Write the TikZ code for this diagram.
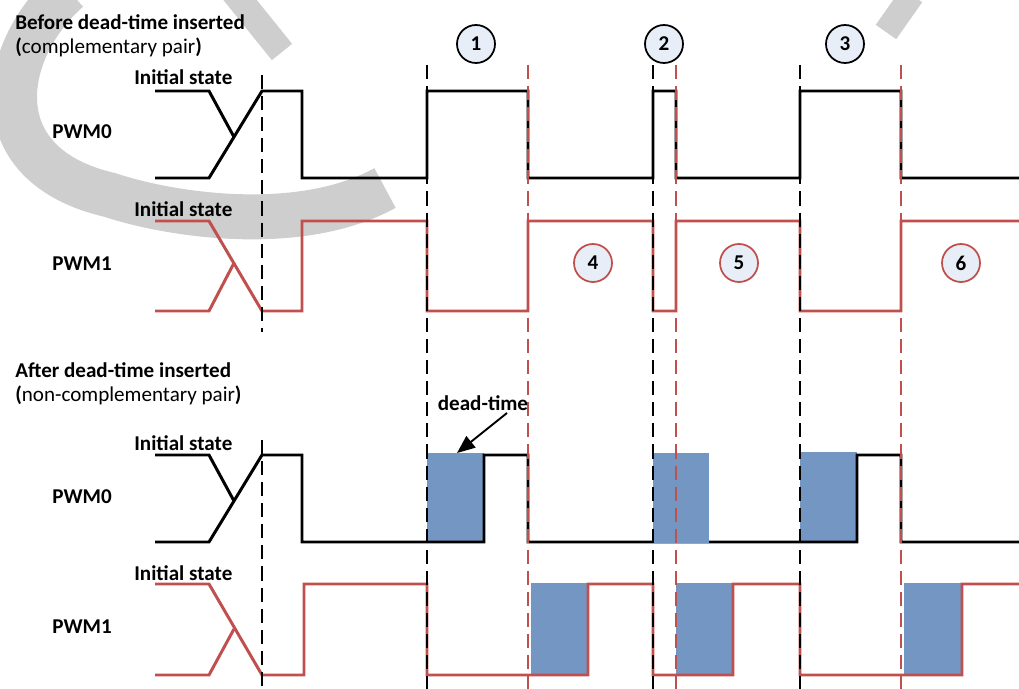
\documentclass[tikz,border=0pt]{standalone}
\usepackage{fontspec}
\setmainfont{Carlito}
\usetikzlibrary{arrows.meta, positioning}
\definecolor{pwmred}{RGB}{192, 80, 77}
\definecolor{deadblue}{RGB}{115, 150, 194}
\definecolor{numfill}{RGB}{232, 238, 248}
\definecolor{markgray}{RGB}{206, 206, 206}

\begin{document}
\begin{tikzpicture}[
        x=0.02cm, y=-0.02cm,
        font=\fontsize{12}{14}\selectfont,
        lbl/.style={anchor=west, inner sep=0pt, font=\fontsize{12}{14}\selectfont\bfseries},
        note/.style={anchor=west, inner sep=0pt},
        wave/.style={line width=1.7pt, black},
        wavered/.style={line width=1.7pt, pwmred},
        guide/.style={dash pattern=on 8pt off 4pt, line width=0.9pt, black},
        guidered/.style={guide, pwmred},
        num/.style={circle, draw=black, fill=numfill, line width=1pt, minimum size=0.76cm, inner sep=0pt, font=\fontsize{12}{14}\selectfont\bfseries},
        numred/.style={num, draw=pwmred},
        dead/.style={fill=deadblue},
        arr/.style={-{Triangle[length=3.6mm, width=2.9mm]}, line width=1.1pt},
        wmark/.style={line width=0.9cm, markgray}
      ]
        \useasboundingbox (0,0) rectangle (1019,689);
        \clip (0,0) rectangle (1019,689);

        % watermark
        \draw[wmark] (68,-10) .. controls (0,50) and (-20,165) .. (110,195)
          .. controls (170,215) and (300,235) .. (385,188);
        \draw[wmark, line width=0.52cm] (232,-10) -- (282,52);
        \draw[wmark, line width=0.5cm] (886,32) -- (912,-5);

        % headings
        \node[lbl] (hbefore) at (15,22) {Before dead-time inserted};
        \node[note] (hcomp) at (15,47) {{\bfseries (}complementary pair{\bfseries )}};
        \node[lbl] (hafter) at (15,370) {After dead-time inserted};
        \node[note] (hnoncomp) at (15,395) {{\bfseries (}non-complementary pair{\bfseries )}};

        % signal names
        \node[lbl] (init0) at (134,77) {Initial state};
        \node[lbl] (pwm0) at (52,132) {PWM0};
        \node[lbl] (init1) at (134,209) {Initial state};
        \node[lbl] (pwm1) at (52,264) {PWM1};
        \node[lbl] (init2) at (134,443) {Initial state};
        \node[lbl] (pwm2) at (52,497) {PWM0};
        \node[lbl] (init3) at (134,573) {Initial state};
        \node[lbl] (pwm3) at (52,627) {PWM1};

        % dead-time blocks
        \fill[dead] (427,453) rectangle (484,542);
        \fill[dead] (800,452) rectangle (857,542);
        \fill[dead] (531,583) rectangle (588,675);
        \fill[dead] (676,583) rectangle (733,675);
        \fill[dead] (904,583) rectangle (962,675);

        % before: PWM0 / PWM1
        \draw[wave] (155,91) -- (209,91) -- (234,137);
        \draw[wave] (155,178) -- (209,178) -- (262,91) -- (302,91) -- (302,178) -- (427,178) -- (427,91)
          -- (528,91) -- (528,178) -- (653,178) -- (653,91) -- (676,91) -- (676,178) -- (800,178)
          -- (800,91) -- (901,91) -- (901,178) -- (1019,178);
        \draw[wavered] (155,311) -- (209,311) -- (234,263);
        \draw[wavered] (155,221) -- (209,221) -- (262,311) -- (302,311) -- (302,221) -- (427,221) -- (427,311)
          -- (528,311) -- (528,221) -- (653,221) -- (653,311) -- (676,311) -- (676,221) -- (800,221)
          -- (800,311) -- (901,311) -- (901,221) -- (1019,221);

        % after: PWM0 / PWM1
        \draw[wave] (155,455) -- (209,455) -- (234,501);
        \draw[wave] (155,542) -- (209,542) -- (262,455) -- (302,455) -- (302,542) -- (484,542) -- (484,455)
          -- (528,455) -- (528,542) -- (857,542) -- (857,455) -- (901,455) -- (901,542) -- (1019,542);
        \fill[dead] (653,453) rectangle (709,543);
        \draw[wavered] (155,675) -- (209,675) -- (234,629);
        \draw[wavered] (155,584) -- (209,584) -- (262,675) -- (304,675) -- (304,584) -- (427,584) -- (427,675)
          -- (588,675) -- (588,584) -- (653,584) -- (653,675) -- (733,675) -- (733,584) -- (800,584)
          -- (800,675) -- (962,675) -- (962,584) -- (1019,584);

        % guide lines
        \draw[guide] (262,75) -- (262,332);
        \draw[guide] (262,440) -- (262,689);
        \foreach \x in {427,653,800}
          \draw[guide] (\x,65) -- (\x,689);
        \foreach \x in {528,676,901}
          \draw[guidered] (\x,65) -- (\x,689);

        % numbered events
        \node[num] (n1) at (476,44) {1};
        \node[num] (n2) at (664,44) {2};
        \node[num] (n3) at (845,44) {3};
        \node[numred] (n4) at (593,263) {4};
        \node[numred] (n5) at (739,263) {5};
        \node[numred] (n6) at (961,263) {6};

        % dead-time label
        \node[lbl, anchor=center] (dt) at (483,403) {dead-time};
        \coordinate (dtfrom) at (507,413);
        \coordinate (dttip) at (457,453);
        \draw[arr] (dtfrom) -- (dttip);
      \end{tikzpicture}
\end{document}
